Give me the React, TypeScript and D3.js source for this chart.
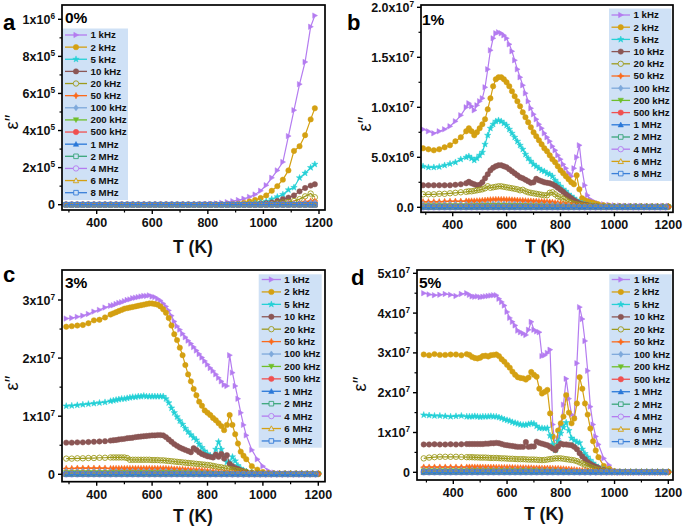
import React from "react";
import * as d3 from "d3";

const FONT = "'Liberation Sans', Arial, Helvetica, sans-serif";

// ---------- temperature grids (K) ----------
const TA = [
  290, 310, 330, 350, 370, 390, 410, 430, 450, 470,
  490, 510, 530, 550, 570, 590, 610, 630, 650, 670,
  690, 710, 730, 750, 770, 790, 810, 830, 850, 870,
  890, 910, 930, 950, 970, 990, 1010, 1030, 1050, 1070,
  1090, 1110, 1130, 1150, 1170, 1185,
];
const TG = [
  290, 310, 330, 350, 370, 390, 410, 430, 450,
  460, 470, 480, 490, 500, 510, 520, 530, 540, 550,
  560, 570, 580, 590, 600, 610, 620, 630, 640, 650,
  660, 670, 680, 690, 700, 710, 720, 730, 740, 750,
  760, 770, 780, 790, 800, 810, 820, 830, 840, 850,
  860, 870, 880, 890, 900, 910, 920, 930, 940,
  960, 980, 1000, 1020, 1040, 1060, 1080, 1100, 1120, 1140, 1160, 1180, 1200,
];
const TL = [
  290, 310, 330, 350, 370, 390, 410, 430, 450, 470,
  490, 510, 530, 550, 570, 590, 610, 630, 650, 670,
  690, 710, 730, 750, 770, 790, 810, 830, 850, 870,
  890, 910, 930, 950, 970, 990, 1010, 1030, 1050, 1070,
  1090, 1110, 1130, 1150, 1170, 1190,
];

const ZERO46 = [
  0, 0, 0, 0, 0, 0, 0, 0, 0, 0,
  0, 0, 0, 0, 0, 0, 0, 0, 0, 0,
  0, 0, 0, 0, 0, 0, 0, 0, 0, 0,
  0, 0, 0, 0, 0, 0, 0, 0, 0, 0,
  0, 0, 0, 0, 0, 0,
];

// ---------- panel a (0%), units of 1e5, on TA ----------
const a1k = [
  0, 0, 0, 0, 0, 0, 0, 0, 0, 0,
  0, 0, 0, 0, 0, 0, 0, 0, 0, 0,
  0, 0, 0, 0, 0.02, 0.03, 0.05, 0.07, 0.1, 0.14,
  0.19, 0.25, 0.32, 0.42, 0.55, 0.75, 1.05, 1.45, 1.85, 2.3,
  3.7, 5.1, 6.5, 7.7, 9.6, 10.2,
];
const a2k = [
  0, 0, 0, 0, 0, 0, 0, 0, 0, 0,
  0, 0, 0, 0, 0, 0, 0, 0, 0, 0,
  0, 0, 0, 0, 0, 0, 0, 0, 0, 0.02,
  0.03, 0.05, 0.1, 0.17, 0.25, 0.36, 0.5, 0.75, 1.0, 1.35,
  1.85, 2.9, 3.15, 3.75, 4.6, 5.2,
];
const a5k = [
  0, 0, 0, 0, 0, 0, 0, 0, 0, 0,
  0, 0, 0, 0, 0, 0, 0, 0, 0, 0,
  0, 0, 0, 0, 0, 0, 0, 0, 0, 0,
  0, 0, 0, 0.04, 0.08, 0.12, 0.18, 0.3, 0.42, 0.55,
  0.8, 0.93, 1.45, 1.7, 2.0, 2.18,
];
const a10k = [
  0, 0, 0, 0, 0, 0, 0, 0, 0, 0,
  0, 0, 0, 0, 0, 0, 0, 0, 0, 0,
  0, 0, 0, 0, 0, 0, 0, 0, 0, 0,
  0, 0, 0, 0, 0, 0.05, 0.08, 0.12, 0.2, 0.3,
  0.38, 0.5, 0.72, 0.9, 1.03, 1.1,
];
const a20k = [
  0, 0, 0, 0, 0, 0, 0, 0, 0, 0,
  0, 0, 0, 0, 0, 0, 0, 0, 0, 0,
  0, 0, 0, 0, 0, 0, 0, 0, 0, 0,
  0, 0, 0, 0, 0, 0, 0, 0.04, 0.08, 0.12,
  0.15, 0.2, 0.3, 0.45, 0.6, 0.4,
];
const a50k = [
  0, 0, 0, 0, 0, 0, 0, 0, 0, 0,
  0, 0, 0, 0, 0, 0, 0, 0, 0, 0,
  0, 0, 0, 0, 0, 0, 0, 0, 0, 0,
  0, 0, 0, 0, 0, 0, 0, 0, 0, 0,
  0.05, 0.07, 0.1, 0.15, 0.2, 0.2,
];
const a100k = [
  0, 0, 0, 0, 0, 0, 0, 0, 0, 0,
  0, 0, 0, 0, 0, 0, 0, 0, 0, 0,
  0, 0, 0, 0, 0, 0, 0, 0, 0, 0,
  0, 0, 0, 0, 0, 0, 0, 0, 0, 0,
  0, 0.03, 0.05, 0.08, 0.1, 0.1,
];

// ---------- panel b (1%), units of 1e6, on TG ----------
const b1k = [
  7.8, 7.6, 7.4, 7.6, 7.8, 8.1, 8.6, 9.2, 10.0,
  10.4, 10.1, 9.7, 10.2, 10.6, 10.9, 12.0, 13.8, 15.7, 16.9,
  17.4, 17.5, 17.4, 17.2, 16.9, 16.3, 15.6, 14.7, 13.8, 13.0,
  12.2, 11.4, 10.6, 9.9, 9.3, 8.8, 8.3, 7.9, 7.4, 7.0,
  6.6, 6.1, 5.7, 5.2, 4.8, 4.3, 3.9, 3.4, 3.1, 3.9,
  5.0, 6.2, 3.8, 2.2, 1.2, 0.8, 0.6, 0.5, 0.4,
  0.3, 0.25, 0.2, 0.18, 0.15, 0.15, 0.15, 0.15, 0.12, 0.12, 0.12, 0.15, 0.15,
];
const b2k = [
  5.9, 5.8, 5.7, 5.8, 6.0, 6.2, 6.6, 7.0, 7.6,
  7.9, 7.6, 7.2, 7.5, 7.9, 8.3, 8.8, 9.8, 10.9, 12.1,
  12.8, 13.0, 13.0, 12.8, 12.5, 12.1, 11.6, 11.1, 10.6, 10.1,
  9.5, 9.0, 8.5, 8.0, 7.5, 7.1, 6.7, 6.3, 5.9, 5.6,
  5.2, 4.8, 4.5, 4.1, 3.7, 3.4, 3.1, 2.8, 2.5, 2.3,
  3.2, 1.8, 0.9, 0.7, 0.6, 0.5, 0.45, 0.35, 0.3,
  0.2, 0.15, 0.1, 0.1, 0.08, 0.08, 0.08, 0.08, 0.08, 0.08, 0.08, 0.08, 0.08,
];
const b5k = [
  4.1, 4.0, 4.0, 4.05, 4.2, 4.35, 4.5, 4.8, 5.0,
  5.1, 4.9, 4.7, 4.9, 5.2, 5.5, 6.3, 7.2, 7.9, 8.3,
  8.6, 8.7, 8.6, 8.4, 8.2, 7.8, 7.4, 7.0, 6.6, 6.2,
  5.8, 5.3, 4.9, 4.6, 4.3, 4.1, 3.9, 3.7, 3.6, 3.4,
  3.3, 3.1, 2.7, 2.4, 2.1, 1.8, 1.6, 1.3, 1.1, 0.9,
  0.7, 0.5, 0.4, 0.3, 0.2, 0.18, 0.15, 0.12, 0.1,
  0.08, 0.08, 0.08, 0.08, 0.08, 0.08, 0.08, 0.08, 0.08, 0.08, 0.08, 0.08, 0.08,
];
const b10k = [
  2.2, 2.2, 2.2, 2.2, 2.2, 2.2, 2.25, 2.3, 2.4,
  2.55, 2.4, 2.3, 2.2, 2.25, 2.5, 2.9, 3.3, 3.7, 3.95,
  4.1, 4.2, 4.2, 4.1, 4.0, 3.8, 3.6, 3.4, 3.2, 3.0,
  2.9, 2.75, 2.6, 2.45, 2.5, 2.85, 2.7, 2.6, 2.5, 2.45,
  2.4, 2.3, 2.15, 1.95, 1.75, 1.55, 1.3, 1.1, 0.9, 0.7,
  0.55, 0.4, 0.3, 0.25, 0.2, 0.15, 0.12, 0.1, 0.08,
  0.06, 0.06, 0.06, 0.06, 0.06, 0.06, 0.06, 0.06, 0.06, 0.06, 0.06, 0.06, 0.06,
];
const b20k = [
  1.3, 1.3, 1.3, 1.35, 1.35, 1.4, 1.45, 1.5, 1.55,
  1.6, 1.6, 1.65, 1.7, 1.75, 1.8, 1.9, 2.1, 1.95, 2.0,
  2.05, 2.1, 2.1, 2.05, 2.0, 1.95, 1.9, 1.85, 1.8, 1.7,
  1.75, 1.6, 1.5, 1.45, 1.4, 1.35, 1.3, 1.25, 1.2, 1.2,
  1.45, 1.5, 1.3, 1.1, 1.0, 0.85, 0.7, 0.55, 0.45, 0.35,
  0.3, 0.25, 0.2, 0.15, 0.12, 0.1, 0.1, 0.08, 0.07,
  0.05, 0.05, 0.05, 0.05, 0.05, 0.05, 0.05, 0.05, 0.05, 0.05, 0.05, 0.05, 0.05,
];
const b50k = [
  0.55, 0.55, 0.55, 0.55, 0.58, 0.6, 0.6, 0.6, 0.62,
  0.62, 0.63, 0.63, 0.64, 0.65, 0.68, 0.7, 0.72, 0.75, 0.76,
  0.78, 0.78, 0.78, 0.77, 0.76, 0.75, 0.74, 0.72, 0.7, 0.68,
  0.67, 0.65, 0.63, 0.62, 0.6, 0.6, 0.58, 0.57, 0.55, 0.54,
  0.52, 0.5, 0.46, 0.42, 0.38, 0.33, 0.28, 0.24, 0.2, 0.17,
  0.14, 0.12, 0.1, 0.08, 0.07, 0.06, 0.05, 0.05, 0.04,
  0.04, 0.04, 0.04, 0.04, 0.04, 0.04, 0.04, 0.04, 0.04, 0.04, 0.04, 0.04, 0.04,
];
// low-amplitude series on TL
const b100k = [
  0.3, 0.3, 0.3, 0.3, 0.3, 0.3, 0.3, 0.3, 0.3, 0.3,
  0.32, 0.33, 0.35, 0.36, 0.36, 0.35, 0.34, 0.33, 0.32, 0.3,
  0.29, 0.28, 0.27, 0.26, 0.24, 0.22, 0.18, 0.14, 0.1, 0.07,
  0.05, 0.05, 0.05, 0.05, 0.05, 0.05, 0.05, 0.05, 0.05, 0.05,
  0.04, 0.04, 0.04, 0.04, 0.04, 0.04,
];
const b200k = [
  0.15, 0.15, 0.15, 0.15, 0.15, 0.15, 0.15, 0.15, 0.15, 0.15,
  0.16, 0.17, 0.18, 0.18, 0.18, 0.18, 0.17, 0.17, 0.16, 0.16,
  0.15, 0.14, 0.13, 0.12, 0.11, 0.1, 0.08, 0.06, 0.05, 0.04,
  0.03, 0.03, 0.03, 0.03, 0.03, 0.03, 0.03, 0.03, 0.03, 0.03,
  0.03, 0.03, 0.03, 0.03, 0.03, 0.03,
];
const b500k = [
  0.08, 0.08, 0.08, 0.08, 0.08, 0.08, 0.08, 0.08, 0.08, 0.08,
  0.09, 0.09, 0.09, 0.09, 0.09, 0.09, 0.09, 0.09, 0.09, 0.09,
  0.08, 0.08, 0.07, 0.07, 0.06, 0.05, 0.04, 0.03, 0.03, 0.02,
  0.02, 0.02, 0.02, 0.02, 0.02, 0.02, 0.02, 0.02, 0.02, 0.02,
  0.02, 0.02, 0.02, 0.02, 0.02, 0.02,
];
const b1M = [
  0.04, 0.04, 0.04, 0.04, 0.04, 0.04, 0.04, 0.04, 0.04, 0.04,
  0.04, 0.04, 0.04, 0.04, 0.04, 0.04, 0.04, 0.04, 0.04, 0.04,
  0.04, 0.04, 0.03, 0.03, 0.03, 0.02, 0.02, 0.02, 0.01, 0.01,
  0.01, 0.01, 0.01, 0.01, 0.01, 0.01, 0.01, 0.01, 0.01, 0.01,
  0.01, 0.01, 0.01, 0.01, 0.01, 0.01,
];

// ---------- panel c (3%), units of 1e6, on TG ----------
const c1k = [
  26.8, 26.9, 27.1, 27.3, 27.6, 28.0, 28.3, 28.7, 29.0,
  29.1, 29.3, 29.5, 29.6, 29.8, 30.0, 30.1, 30.3, 30.4, 30.5,
  30.6, 30.7, 30.7, 30.8, 30.6, 30.5, 30.2, 29.9, 29.4, 28.9,
  28.2, 27.3, 26.3, 25.5, 24.9, 24.2, 23.6, 23.0, 22.5, 21.9,
  21.3, 20.7, 20.1, 19.5, 18.9, 18.3, 17.8, 17.2, 16.6, 16.0,
  15.4, 15.2, 20.5, 17.5, 15.2, 13.0, 10.6, 8.5, 6.7,
  4.2, 2.6, 1.4, 0.6, 0.3, 0.2, 0.15, 0.15, 0.15, 0.15, 0.15, 0.15, 0.15,
];
const c2k = [
  25.4, 25.5, 25.6, 25.7, 26.0, 26.5, 26.6, 27.0, 27.5,
  27.7, 27.9, 28.1, 28.3, 28.5, 28.6, 28.7, 28.8, 28.9, 29.0,
  29.1, 29.2, 29.3, 29.4, 29.4, 29.3, 29.2, 28.9, 28.4, 27.8,
  26.9, 25.6, 24.1, 23.1, 21.8, 20.5, 18.8, 17.2, 16.0, 14.7,
  13.6, 12.5, 11.8, 11.0, 10.6, 10.2, 9.7, 9.3, 8.8, 8.3,
  7.6, 8.5, 10.2, 8.5, 6.9, 5.3, 3.9, 3.2, 2.6,
  1.4, 0.8, 0.4, 0.2, 0.15, 0.12, 0.12, 0.12, 0.12, 0.12, 0.12, 0.12, 0.12,
];
const c5k = [
  11.75, 11.8, 11.9, 12.0, 12.1, 12.2, 12.3, 12.4, 12.6,
  12.7, 12.8, 12.9, 13.0, 13.0, 13.1, 13.2, 13.3, 13.3, 13.4,
  13.4, 13.5, 13.4, 13.4, 13.4, 13.4, 13.4, 13.4, 13.4, 13.0,
  12.3, 11.4, 10.6, 9.9, 9.2, 8.6, 7.9, 7.3, 6.8, 6.3,
  5.9, 5.2, 4.6, 4.0, 3.5, 3.2, 3.0, 4.3, 5.6, 4.3,
  3.0, 2.1, 2.0, 3.0, 2.3, 1.5, 1.0, 0.7, 0.5,
  0.3, 0.15, 0.1, 0.08, 0.08, 0.08, 0.08, 0.08, 0.08, 0.08, 0.08, 0.08, 0.08,
];
const c10k = [
  5.45, 5.45, 5.5, 5.5, 5.55, 5.6, 5.65, 5.7, 5.8,
  5.85, 5.9, 6.0, 6.05, 6.1, 6.2, 6.25, 6.3, 6.4, 6.45,
  6.5, 6.55, 6.6, 6.65, 6.7, 6.7, 6.75, 6.75, 6.7, 6.4,
  6.0, 5.6, 5.2, 4.9, 4.6, 4.4, 4.2, 4.0, 3.8, 4.5,
  4.2, 3.8, 3.5, 3.3, 3.1, 3.0, 2.9, 3.4, 3.0, 3.5,
  2.7, 3.3, 1.8, 1.4, 1.1, 0.9, 0.7, 0.55, 0.4,
  0.25, 0.15, 0.1, 0.08, 0.08, 0.08, 0.08, 0.08, 0.08, 0.08, 0.08, 0.08, 0.08,
];
const c20k = [
  2.7, 2.7, 2.75, 2.75, 2.8, 2.8, 2.85, 2.85, 2.9,
  2.9, 2.9, 2.9, 2.9, 2.9, 2.8, 2.5, 2.5, 2.5, 2.5,
  2.5, 2.5, 2.5, 2.5, 2.45, 2.45, 2.45, 2.4, 2.4, 2.35,
  2.3, 2.25, 2.2, 2.15, 2.1, 2.05, 2.0, 1.95, 1.9, 1.85,
  1.8, 1.75, 1.7, 1.65, 1.6, 1.55, 1.45, 1.35, 1.25, 1.2,
  1.1, 1.0, 0.9, 0.8, 0.7, 0.6, 0.5, 0.45, 0.4,
  0.3, 0.2, 0.12, 0.08, 0.08, 0.08, 0.08, 0.08, 0.08, 0.08, 0.08, 0.08, 0.08,
];
const c50k = [
  1.0, 1.0, 1.05, 1.05, 1.05, 1.05, 1.05, 1.05, 1.0,
  1.0, 1.0, 1.0, 1.0, 1.0, 1.0, 1.0, 1.0, 1.0, 1.0,
  1.0, 1.0, 1.0, 1.0, 1.0, 1.0, 1.0, 1.0, 1.0, 1.0,
  0.95, 0.95, 0.9, 0.9, 0.85, 0.85, 0.8, 0.8, 0.75, 0.75,
  0.7, 0.7, 0.65, 0.6, 0.55, 0.5, 0.45, 0.4, 0.35, 0.3,
  0.28, 0.25, 0.22, 0.2, 0.18, 0.15, 0.12, 0.1, 0.08,
  0.06, 0.06, 0.06, 0.06, 0.06, 0.06, 0.06, 0.06, 0.06, 0.06, 0.06, 0.06, 0.06,
];
const c100k = [
  0.5, 0.5, 0.5, 0.5, 0.5, 0.5, 0.5, 0.5, 0.5, 0.5,
  0.5, 0.5, 0.5, 0.5, 0.5, 0.5, 0.5, 0.5, 0.5, 0.5,
  0.48, 0.45, 0.42, 0.4, 0.37, 0.33, 0.28, 0.22, 0.15, 0.1,
  0.06, 0.04, 0.03, 0.03, 0.03, 0.03, 0.03, 0.03, 0.03, 0.03,
  0.03, 0.03, 0.03, 0.03, 0.03, 0.03,
];
const c200k = [
  0.3, 0.3, 0.3, 0.3, 0.3, 0.3, 0.3, 0.3, 0.3, 0.3,
  0.3, 0.3, 0.3, 0.3, 0.3, 0.3, 0.3, 0.3, 0.3, 0.3,
  0.28, 0.26, 0.25, 0.23, 0.21, 0.18, 0.15, 0.12, 0.09, 0.06,
  0.04, 0.03, 0.02, 0.02, 0.02, 0.02, 0.02, 0.02, 0.02, 0.02,
  0.02, 0.02, 0.02, 0.02, 0.02, 0.02,
];
const c500k = [
  0.15, 0.15, 0.15, 0.15, 0.15, 0.15, 0.15, 0.15, 0.15, 0.15,
  0.15, 0.15, 0.15, 0.15, 0.15, 0.15, 0.15, 0.15, 0.15, 0.15,
  0.14, 0.13, 0.12, 0.11, 0.1, 0.09, 0.08, 0.06, 0.05, 0.04,
  0.02, 0.02, 0.02, 0.02, 0.02, 0.02, 0.02, 0.02, 0.02, 0.02,
  0.02, 0.02, 0.02, 0.02, 0.02, 0.02,
];
const c1M = [
  0.08, 0.08, 0.08, 0.08, 0.08, 0.08, 0.08, 0.08, 0.08, 0.08,
  0.08, 0.08, 0.08, 0.08, 0.08, 0.08, 0.08, 0.08, 0.08, 0.08,
  0.07, 0.07, 0.06, 0.06, 0.05, 0.05, 0.04, 0.03, 0.03, 0.02,
  0.01, 0.01, 0.01, 0.01, 0.01, 0.01, 0.01, 0.01, 0.01, 0.01,
  0.01, 0.01, 0.01, 0.01, 0.01, 0.01,
];

// ---------- panel d (5%), units of 1e6, on TG ----------
const d1k = [
  45.0, 44.7, 44.5, 44.6, 44.8, 44.6, 44.3, 44.8, 45.0,
  44.6, 44.2, 44.1, 44.2, 44.0, 44.1, 44.2, 44.3, 44.4, 44.5,
  44.5, 43.6, 42.8, 41.9, 40.3, 38.8, 37.8, 36.9, 35.6, 35.2,
  34.9, 34.5, 35.8, 37.8, 35.8, 35.4, 35.2, 29.2, 29.4, 30.0,
  30.8, 12.0, 5.6, 8.5, 11.8, 17.0, 23.5, 18.5, 14.5, 14.0,
  27.4, 41.5, 38.5, 33.0, 25.5, 16.5, 12.0, 9.0, 7.0,
  3.5, 1.8, 0.3, 0.2, 0.15, 0.15, 0.15, 0.15, 0.15, 0.15, 0.15, 0.15, 0.15,
];
const d2k = [
  29.6, 29.4, 29.7, 29.5, 29.5, 29.6, 29.6, 29.4, 29.7,
  29.5, 29.0, 28.7, 28.6, 28.8, 29.2, 29.3, 29.1, 29.4, 29.5,
  29.6, 29.2, 28.4, 27.8, 27.0, 26.3, 25.3, 24.5, 23.9, 23.7,
  23.6, 23.3, 23.8, 25.2, 24.5, 24.0, 21.0, 19.8, 20.2, 20.7,
  14.8, 9.0, 5.6, 10.5, 12.3, 14.0, 19.4, 15.0, 12.3, 13.5,
  17.3, 23.9, 21.0, 17.3, 14.5, 11.0, 7.8, 5.5, 3.8,
  1.6, 0.9, 0.3, 0.15, 0.1, 0.1, 0.1, 0.1, 0.1, 0.1, 0.1, 0.1, 0.1,
];
const d5k = [
  14.4, 14.3, 14.2, 14.2, 14.1, 14.0, 14.1, 14.2, 14.0,
  14.0, 14.0, 14.1, 14.0, 13.9, 14.0, 14.0, 14.0, 14.1, 14.0,
  14.0, 13.8, 13.6, 13.3, 13.1, 12.9, 12.6, 12.4, 12.2, 12.0,
  11.9, 11.9, 12.1, 12.3, 12.2, 11.6, 11.1, 11.1, 11.0, 11.1,
  9.2, 7.0, 5.6, 7.8, 9.8, 11.3, 12.5, 10.5, 8.6, 8.0,
  7.6, 7.4, 5.8, 4.7, 3.8, 3.0, 2.3, 1.7, 1.3,
  0.7, 0.35, 0.15, 0.1, 0.1, 0.1, 0.1, 0.1, 0.1, 0.1, 0.1, 0.1, 0.1,
];
const d10k = [
  7.0, 7.0, 7.05, 7.0, 7.0, 7.05, 7.0, 7.05, 7.1,
  7.1, 7.1, 7.1, 7.1, 7.1, 7.1, 7.2, 7.2, 7.3, 7.3,
  7.4, 7.3, 7.1, 6.9, 6.8, 6.7, 6.6, 6.5, 6.4, 6.4,
  6.4, 7.6, 6.4, 6.5, 6.5, 7.7, 7.4, 7.2, 7.0, 6.8,
  6.4, 6.0, 5.6, 6.5, 7.2, 7.0, 7.0, 6.9, 6.8, 6.4,
  5.8, 4.8, 4.0, 3.3, 2.6, 2.1, 1.7, 1.4, 1.1,
  0.6, 0.3, 0.15, 0.1, 0.1, 0.1, 0.1, 0.1, 0.1, 0.1, 0.1, 0.1, 0.1,
];
const d20k = [
  3.5, 3.7, 3.8, 3.9, 3.9, 3.9, 3.9, 3.85, 3.8,
  3.8, 3.8, 3.75, 3.75, 3.7, 3.7, 3.7, 3.65, 3.6, 3.6,
  3.6, 3.55, 3.5, 3.5, 3.45, 3.4, 3.4, 3.35, 3.3, 3.3,
  3.3, 3.25, 3.2, 3.2, 3.2, 3.15, 3.1, 3.05, 3.1, 3.2,
  3.3, 3.4, 3.5, 3.5, 3.5, 3.4, 3.3, 3.2, 3.1, 3.0,
  2.8, 2.5, 2.2, 1.9, 1.6, 1.3, 1.0, 0.8, 0.6,
  0.35, 0.2, 0.1, 0.08, 0.08, 0.08, 0.08, 0.08, 0.08, 0.08, 0.08, 0.08, 0.08,
];
const d50k = [
  1.3, 1.3, 1.3, 1.3, 1.3, 1.3, 1.3, 1.3, 1.3,
  1.3, 1.3, 1.3, 1.3, 1.3, 1.28, 1.28, 1.25, 1.25, 1.25,
  1.22, 1.22, 1.2, 1.2, 1.2, 1.18, 1.18, 1.15, 1.15, 1.12,
  1.12, 1.1, 1.1, 1.1, 1.05, 1.05, 1.05, 1.0, 1.0, 1.0,
  1.0, 0.95, 0.95, 0.95, 0.9, 0.85, 0.8, 0.75, 0.7, 0.65,
  0.55, 0.5, 0.45, 0.38, 0.3, 0.25, 0.2, 0.15, 0.1,
  0.08, 0.06, 0.05, 0.05, 0.05, 0.05, 0.05, 0.05, 0.05, 0.05, 0.05, 0.05, 0.05,
];
const d100k = [
  0.6, 0.6, 0.6, 0.6, 0.6, 0.6, 0.6, 0.6, 0.6, 0.6,
  0.6, 0.6, 0.6, 0.6, 0.6, 0.6, 0.6, 0.6, 0.6, 0.6,
  0.58, 0.55, 0.52, 0.5, 0.47, 0.43, 0.36, 0.28, 0.2, 0.12,
  0.07, 0.05, 0.04, 0.04, 0.04, 0.04, 0.04, 0.04, 0.04, 0.04,
  0.04, 0.04, 0.04, 0.04, 0.04, 0.04,
];
const d200k = [
  0.35, 0.35, 0.35, 0.35, 0.35, 0.35, 0.35, 0.35, 0.35, 0.35,
  0.35, 0.35, 0.35, 0.35, 0.35, 0.35, 0.35, 0.35, 0.35, 0.35,
  0.34, 0.32, 0.3, 0.28, 0.26, 0.23, 0.19, 0.15, 0.1, 0.06,
  0.04, 0.03, 0.02, 0.02, 0.02, 0.02, 0.02, 0.02, 0.02, 0.02,
  0.02, 0.02, 0.02, 0.02, 0.02, 0.02,
];
const d500k = [
  0.2, 0.2, 0.2, 0.2, 0.2, 0.2, 0.2, 0.2, 0.2, 0.2,
  0.2, 0.2, 0.2, 0.2, 0.2, 0.2, 0.2, 0.2, 0.2, 0.2,
  0.19, 0.18, 0.17, 0.16, 0.15, 0.13, 0.11, 0.08, 0.06, 0.04,
  0.03, 0.02, 0.02, 0.02, 0.02, 0.02, 0.02, 0.02, 0.02, 0.02,
  0.02, 0.02, 0.02, 0.02, 0.02, 0.02,
];
const d1M = [
  0.1, 0.1, 0.1, 0.1, 0.1, 0.1, 0.1, 0.1, 0.1, 0.1,
  0.1, 0.1, 0.1, 0.1, 0.1, 0.1, 0.1, 0.1, 0.1, 0.1,
  0.1, 0.09, 0.09, 0.08, 0.08, 0.07, 0.06, 0.05, 0.04, 0.03,
  0.02, 0.02, 0.02, 0.02, 0.02, 0.02, 0.02, 0.02, 0.02, 0.02,
  0.02, 0.02, 0.02, 0.02, 0.02, 0.02,
];

// ---------- series names / styles ----------
const NAMES = ["1 kHz", "2 kHz", "5 kHz", "10 kHz", "20 kHz", "50 kHz", "100 kHz", "200 kHz", "500 kHz", "1 MHz", "2 MHz", "4 MHz", "6 MHz", "8 MHz"];
const COLORS = ["#b47cf0", "#d4a012", "#25d0d6", "#8b5655", "#9d9a1c", "#fb6a1c", "#7ea9db", "#6fbf2a", "#f05050", "#2a78d8", "#3aa67a", "#b47cf0", "#d4a012", "#3a7fd8"];
const SHAPES = ["triR", "circle", "star", "circle", "circleO", "star4", "diamond", "triD", "circle", "triU", "squareO", "circleO", "triUO", "squareO"];

const X_MAJOR = [400, 600, 800, 1000, 1200];
const X_MINOR = [300, 500, 700, 900, 1100];

type Panel = {
  letter: string; pct: string;
  box: { x0: number; x1: number; y0: number; y1: number };
  xCal: [number, number]; xPix: [number, number];
  yCal: [number, number]; yPix: [number, number];
  yMajor: number[]; yLabels: [string, string][]; yMinor: number[];
  grids: number[][]; series: number[][];
  letterPos: [number, number]; pctPos: [number, number];
  xTitle: [number, number]; yTitle: [number, number];
  leg: { x: number; y: number; w: number; h: number; r0: number; step: number; l0: number; l1: number; tx: number };
};

const G6 = (main: number[], low: number[]) => [main, main, main, main, main, main, low, low, low, low, low, low, low, low];

const PANELS: Panel[] = [
  {
    letter: "a", pct: "0%",
    box: { x0: 62, x1: 325, y0: 5, y1: 210 },
    xCal: [400, 1200], xPix: [96.7, 319],
    yCal: [0, 10], yPix: [204.7, 19.3],
    yMajor: [0, 2, 4, 6, 8, 10],
    yLabels: [["0", ""], ["2x10", "5"], ["4x10", "5"], ["6x10", "5"], ["8x10", "5"], ["1x10", "6"]],
    yMinor: [1, 3, 5, 7, 9],
    grids: G6(TA, TA),
    series: [a1k, a2k, a5k, a10k, a20k, a50k, a100k, ZERO46, ZERO46, ZERO46, ZERO46, ZERO46, ZERO46, ZERO46],
    letterPos: [3, 29.5], pctPos: [65, 23],
    xTitle: [193, 253], yTitle: [12, 122],
    leg: { x: 62, y: 28.5, w: 66, h: 171.5, r0: 35, step: 12.13, l0: 65, l1: 87, tx: 90.5 },
  },
  {
    letter: "b", pct: "1%",
    box: { x0: 421, x1: 673, y0: 5, y1: 212.3 },
    xCal: [400, 1200], xPix: [452.7, 668.3],
    yCal: [0, 20], yPix: [207.3, 7.3],
    yMajor: [0, 5, 10, 15, 20],
    yLabels: [["0.0", ""], ["5.0x10", "6"], ["1.0x10", "7"], ["1.5x10", "7"], ["2.0x10", "7"]],
    yMinor: [2.5, 7.5, 12.5, 17.5],
    grids: G6(TG, TL),
    series: [b1k, b2k, b5k, b10k, b20k, b50k, b100k, b200k, b500k, b1M, b1M, ZERO46, ZERO46, ZERO46],
    letterPos: [347, 30], pctPos: [422, 25],
    xTitle: [545, 253], yTitle: [365, 124],
    leg: { x: 609, y: 8.5, w: 62.5, h: 172.5, r0: 15, step: 12.2, l0: 611.5, l1: 630, tx: 633.5 },
  },
  {
    letter: "c", pct: "3%",
    box: { x0: 62, x1: 325, y0: 270, y1: 481.7 },
    xCal: [400, 1200], xPix: [96.7, 318.3],
    yCal: [0, 30], yPix: [474.3, 300],
    yMajor: [0, 10, 20, 30],
    yLabels: [["0", ""], ["1x10", "7"], ["2x10", "7"], ["3x10", "7"]],
    yMinor: [5, 15, 25],
    grids: G6(TG, TL),
    series: [c1k, c2k, c5k, c10k, c20k, c50k, c100k, c200k, c500k, c1M, c1M, ZERO46, ZERO46, ZERO46],
    letterPos: [3, 282], pctPos: [65, 288],
    xTitle: [193, 522], yTitle: [12, 383],
    leg: { x: 258.7, y: 274.3, w: 63, h: 173.4, r0: 279.5, step: 12.42, l0: 261.7, l1: 281, tx: 284.3 },
  },
  {
    letter: "d", pct: "5%",
    box: { x0: 417, x1: 673, y0: 270, y1: 480 },
    xCal: [400, 1200], xPix: [453.3, 668.3],
    yCal: [0, 50], yPix: [472.3, 273.3],
    yMajor: [0, 10, 20, 30, 40, 50],
    yLabels: [["0", ""], ["1x10", "7"], ["2x10", "7"], ["3x10", "7"], ["4x10", "7"], ["5x10", "7"]],
    yMinor: [5, 15, 25, 35, 45],
    grids: G6(TG, TL),
    series: [d1k, d2k, d5k, d10k, d20k, d50k, d100k, d200k, d500k, d1M, d1M, ZERO46, ZERO46, ZERO46],
    letterPos: [351, 285], pctPos: [419, 288],
    xTitle: [544, 520], yTitle: [360, 384],
    leg: { x: 609.3, y: 274.3, w: 62.4, h: 173.4, r0: 279.5, step: 12.47, l0: 611.7, l1: 630, tx: 634 },
  },
];

// ---------- marker geometry ----------
function starPath(x: number, y: number, R: number, r: number, n: number) {
  let s = "";
  for (let k = 0; k < 2 * n; k++) {
    const a = -Math.PI / 2 + (k * Math.PI) / n;
    const rr = k % 2 === 0 ? R : r;
    s += (k === 0 ? "M" : "L") + (x + rr * Math.cos(a)).toFixed(2) + "," + (y + rr * Math.sin(a)).toFixed(2);
  }
  return s + "Z";
}
function mark(shape: string, x: number, y: number, r: number): string {
  switch (shape) {
    case "triR": return `M${x - r * 0.8},${y - r}L${x + r},${y}L${x - r * 0.8},${y + r}Z`;
    case "triD": return `M${x - r},${y - r * 0.8}L${x + r},${y - r * 0.8}L${x},${y + r}Z`;
    case "triU":
    case "triUO": return `M${x - r},${y + r * 0.8}L${x + r},${y + r * 0.8}L${x},${y - r}Z`;
    case "diamond": return `M${x},${y - r * 1.15}L${x + r * 0.85},${y}L${x},${y + r * 1.15}L${x - r * 0.85},${y}Z`;
    case "squareO": { const s = r * 0.85; return `M${x - s},${y - s}h${2 * s}v${2 * s}h${-2 * s}Z`; }
    case "star": return starPath(x, y, r * 1.25, r * 0.5, 5);
    case "star4": return starPath(x, y, r * 1.2, r * 0.55, 4);
    default: return `M${x - r},${y}a${r},${r} 0 1,0 ${2 * r},0a${r},${r} 0 1,0 ${-2 * r},0Z`;
  }
}
const hollow = (s: string) => s.endsWith("O");

function PanelView({ p, idx }: { p: Panel; idx: number }) {
  const x = d3.scaleLinear().domain(p.xCal).range(p.xPix);
  const y = d3.scaleLinear().domain(p.yCal).range(p.yPix);
  const line = d3.line<[number, number]>().x((d) => x(d[0])).y((d) => y(d[1]));
  const { x0, x1, y0, y1 } = p.box;
  const clipId = `clip${idx}`;
  const R = 2.7;

  const drawn = p.series.map((vals, i) => {
    const T = p.grids[i];
    const pts: [number, number][] = [];
    for (let j = 0; j < Math.min(vals.length, T.length); j++) pts.push([T[j], vals[j]]);
    const md = pts.map((d) => mark(SHAPES[i], x(d[0]), y(d[1]), R)).join("");
    return { i, d: line(pts) || "", md };
  });

  const tickFont = 12.5;
  return (
    <g>
      <defs>
        <clipPath id={clipId}>
          <rect x={x0} y={y0} width={x1 - x0} height={y1 - y0} />
        </clipPath>
      </defs>
      <g clipPath={`url(#${clipId})`}>
        {drawn.map((s) => (
          <g key={s.i}>
            <path d={s.d} fill="none" stroke={COLORS[s.i]} strokeWidth={1.2} />
            <path d={s.md} fill={hollow(SHAPES[s.i]) ? "none" : COLORS[s.i]} stroke={COLORS[s.i]} strokeWidth={hollow(SHAPES[s.i]) ? 0.9 : 0.5} />
          </g>
        ))}
      </g>

      {/* legend */}
      <rect x={p.leg.x} y={p.leg.y} width={p.leg.w} height={p.leg.h} fill="#cfe1f6" />
      {NAMES.map((n, i) => {
        const yy = p.leg.r0 + i * p.leg.step;
        const cx = (p.leg.l0 + p.leg.l1) / 2;
        return (
          <g key={n}>
            <line x1={p.leg.l0} x2={p.leg.l1} y1={yy} y2={yy} stroke={COLORS[i]} strokeWidth={1.3} />
            <path d={mark(SHAPES[i], cx, yy, R)} fill={hollow(SHAPES[i]) ? "#cfe1f6" : COLORS[i]} stroke={COLORS[i]} strokeWidth={hollow(SHAPES[i]) ? 0.9 : 0.5} />
            <text x={p.leg.tx} y={yy + 3.4} fontSize={9.7} fontWeight="bold" fill="#111">{n}</text>
          </g>
        );
      })}

      {/* frame */}
      <rect x={x0} y={y0} width={x1 - x0} height={y1 - y0} fill="none" stroke="#000" strokeWidth={1.7} />

      {/* x ticks */}
      {X_MAJOR.map((t) => (
        <g key={"xm" + t}>
          <line x1={x(t)} x2={x(t)} y1={y1} y2={y1 + 4} stroke="#000" strokeWidth={1.4} />
          <text x={x(t)} y={y1 + 17} textAnchor="middle" fontSize={tickFont} fontWeight="bold" fill="#111">{t}</text>
        </g>
      ))}
      {X_MINOR.map((t) => (
        <line key={"xn" + t} x1={x(t)} x2={x(t)} y1={y1} y2={y1 + 2.5} stroke="#000" strokeWidth={1.2} />
      ))}

      {/* y ticks */}
      {p.yMajor.map((v, k) => (
        <g key={"ym" + v}>
          <line x1={x0 - 4} x2={x0} y1={y(v)} y2={y(v)} stroke="#000" strokeWidth={1.4} />
          <text x={x0 - 7} y={Math.max(y(v) + 4.5, 12)} textAnchor="end" fontSize={tickFont} fontWeight="bold" fill="#111">
            {p.yLabels[k][0]}
            {p.yLabels[k][1] ? <tspan dy={-4.8} fontSize={8.3}>{p.yLabels[k][1]}</tspan> : null}
          </text>
        </g>
      ))}
      {p.yMinor.map((v) => (
        <line key={"yn" + v} x1={x0 - 2.5} x2={x0} y1={y(v)} y2={y(v)} stroke="#000" strokeWidth={1.2} />
      ))}

      {/* titles */}
      <text x={p.xTitle[0]} y={p.xTitle[1]} textAnchor="middle" fontSize={17.5} fontWeight="bold" fill="#111">T (K)</text>
      <text transform={`translate(${p.yTitle[0]},${p.yTitle[1]}) rotate(-90)`} textAnchor="middle" dominantBaseline="central" fontSize={18} fill="#111">ε′′</text>
      <text x={p.letterPos[0]} y={p.letterPos[1]} fontSize={22} fontWeight="bold" fill="#000">{p.letter}</text>
      <text x={p.pctPos[0]} y={p.pctPos[1]} fontSize={15.5} fontWeight="bold" fill="#000">{p.pct}</text>
    </g>
  );
}

export default function App() {
  return (
    <svg width={685} height={530} viewBox="0 0 685 530" fontFamily={FONT}
      style={{ position: "absolute", left: 0, top: 0, display: "block" }}>
      <rect x={0} y={0} width={685} height={530} fill="#fff" />
      {PANELS.map((p, i) => <PanelView key={p.letter} p={p} idx={i} />)}
    </svg>
  );
}
